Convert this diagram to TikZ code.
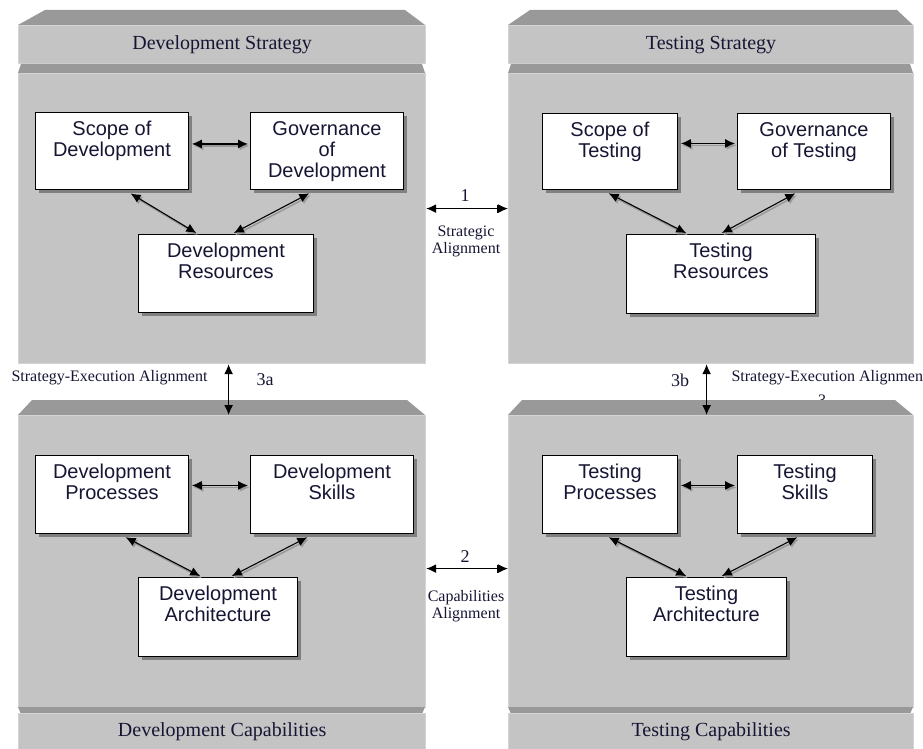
\documentclass[tikz,border=0pt]{standalone}
\usepackage{fontspec}
\setmainfont{Liberation Serif}
\setsansfont{Liberation Sans}
\usepackage{tikz}
\usetikzlibrary{arrows.meta,shadows}
\definecolor{panelgray}{RGB}{196,196,196}
\definecolor{bevelgray}{RGB}{153,153,153}
\definecolor{edgegray}{RGB}{212,212,212}
\definecolor{inkblue}{RGB}{22,22,52}

\begin{document}
\begin{tikzpicture}[x=1pt, y=-1pt,
  panel/.style={fill=panelgray, draw=edgegray, line width=1.2pt,
    anchor=north west, inner sep=0pt, text=inkblue,
    font=\fontsize{20}{22}\selectfont},
  bevel/.style={fill=bevelgray},
  card/.style={draw=black, fill=white, line width=0.9pt,
    anchor=north west, inner sep=0pt,
    drop shadow={shadow xshift=3.5pt, shadow yshift=-3.5pt,
      fill=black!50, opacity=1}},
  cardtext/.style={anchor=north, align=center, text=inkblue,
    font=\sffamily\fontsize{20}{21}\selectfont, inner ysep=9pt},
  gaptext/.style={text=inkblue, align=center,
    font=\fontsize{16}{17}\selectfont},
  numtext/.style={text=inkblue, font=\fontsize{18}{20}\selectfont},
  link/.style={{Latex[length=10pt,width=9pt]}-{Latex[length=10pt,width=9pt]},
    line width=1.1pt, shorten <=3pt, shorten >=2pt,
    preaction={draw=black!40, line width=1.5pt,
      transform canvas={shift={(1.5pt,-2pt)}}}},
  alignlink/.style={{Latex[length=10pt,width=9pt]}-{Latex[length=10pt,width=9pt]},
    line width=1.2pt},
  barlink/.style={{Latex[length=10pt,width=9pt]}-{Bar[width=8pt]Latex[length=10pt,width=9pt]},
    line width=1.2pt}
]
  \clip (0,0) rectangle (923,749);

  % hidden label behind the lower right panel
  \node[gaptext] (hidden) at (822,400) {3};

  % === Development Strategy (top left) ===
  \fill[bevel] (18,25) -- (45,10) -- (405,10) -- (425,25) -- cycle;
  \node[panel, minimum width=407, minimum height=38] (tlhead) at (18,25)
    {Development Strategy};
  \fill[bevel] (18,73) -- (21,64) -- (422,64) -- (425,73) -- cycle;
  \node[panel, minimum width=407, minimum height=290] (tlbody) at (18,73) {};

  % === Testing Strategy (top right) ===
  \fill[bevel] (508,25) -- (530,10) -- (897,10) -- (913,25) -- cycle;
  \node[panel, minimum width=405, minimum height=38] (trhead) at (508,25)
    {Testing Strategy};
  \fill[bevel] (508,73) -- (511,64) -- (910,64) -- (913,73) -- cycle;
  \node[panel, minimum width=405, minimum height=290] (trbody) at (508,73) {};

  % === Development Capabilities (bottom left) ===
  \fill[bevel] (18,415) -- (32,400) -- (407,400) -- (425,415) -- cycle;
  \node[panel, minimum width=407, minimum height=292] (blbody) at (18,415) {};
  \fill[bevel] (18,707) -- (425,707) -- (422,714) -- (21,714) -- cycle;
  \node[panel, minimum width=407, minimum height=36] (blhead) at (18,713)
    {Development Capabilities};

  % === Testing Capabilities (bottom right) ===
  \fill[bevel] (508,415) -- (522,400) -- (895,400) -- (913,415) -- cycle;
  \node[panel, minimum width=405, minimum height=292] (brbody) at (508,415) {};
  \fill[bevel] (508,707) -- (913,707) -- (910,714) -- (511,714) -- cycle;
  \node[panel, minimum width=405, minimum height=36] (brhead) at (508,713)
    {Testing Capabilities};

  % Development strategy boxes
  \node[card, minimum width=153, minimum height=77] (scopedev) at (35,112) {};
  \node[cardtext] (scopedevtxt) at (scopedev.north) {Scope of\\Development};
  \node[card, minimum width=153, minimum height=77] (govdev) at (250,112) {};
  \node[cardtext] (govdevtxt) at (govdev.north) {Governance\\of\\Development};
  \node[card, minimum width=175, minimum height=78] (resdev) at (138,234) {};
  \node[cardtext] (resdevtxt) at (resdev.north) {Development\\Resources};
  \draw[link] ([yshift=7pt]scopedev.east) -- ([yshift=7pt]govdev.west);
  \draw[link] ([shift={(93pt,-2pt)}]scopedev.south west)
    -- ([xshift=60pt]resdev.north west);
  \draw[link] ([shift={(62pt,-2pt)}]govdev.south west)
    -- ([xshift=94pt]resdev.north west);

  % Testing strategy boxes
  \node[card, minimum width=135, minimum height=76] (scopetest) at (542,113) {};
  \node[cardtext] (scopetesttxt) at (scopetest.north) {Scope of\\Testing};
  \node[card, minimum width=153, minimum height=76] (govtest) at (737,113) {};
  \node[cardtext] (govtesttxt) at (govtest.north) {Governance\\of Testing};
  \node[card, minimum width=189, minimum height=79] (restest) at (626,234) {};
  \node[cardtext] (restesttxt) at (restest.north) {Testing\\Resources};
  \draw[link] ([yshift=8pt]scopetest.east) -- ([yshift=8pt]govtest.west);
  \draw[link] ([shift={(64pt,-2pt)}]scopetest.south west)
    -- ([xshift=62pt]restest.north west);
  \draw[link] ([shift={(61pt,-2pt)}]govtest.south west)
    -- ([xshift=94pt]restest.north west);

  % Development capabilities boxes
  \node[card, minimum width=153, minimum height=78] (procdev) at (35,455) {};
  \node[cardtext] (procdevtxt) at (procdev.north) {Development\\Processes};
  \node[card, minimum width=163, minimum height=78] (skilldev) at (250,455) {};
  \node[cardtext] (skilldevtxt) at (skilldev.north) {Development\\Skills};
  \node[card, minimum width=159, minimum height=79] (archdev) at (138,577) {};
  \node[cardtext] (archdevtxt) at (archdev.north) {Development\\Architecture};
  \draw[link] ([yshift=9pt]procdev.east) -- ([yshift=9pt]skilldev.west);
  \draw[link] ([shift={(88pt,-2pt)}]procdev.south west)
    -- ([xshift=64pt]archdev.north west);
  \draw[link] ([shift={(60pt,-2pt)}]skilldev.south west)
    -- ([xshift=92pt]archdev.north west);

  % Testing capabilities boxes
  \node[card, minimum width=135, minimum height=78] (proctest) at (542,455) {};
  \node[cardtext] (proctesttxt) at (proctest.north) {Testing\\Processes};
  \node[card, minimum width=135, minimum height=78] (skilltest) at (737,455) {};
  \node[cardtext] (skilltesttxt) at (skilltest.north) {Testing\\Skills};
  \node[card, minimum width=160, minimum height=79] (archtest) at (626,577) {};
  \node[cardtext] (archtesttxt) at (archtest.north) {Testing\\Architecture};
  \draw[link] ([yshift=9pt]proctest.east) -- ([yshift=9pt]skilltest.west);
  \draw[link] ([shift={(64pt,-2pt)}]proctest.south west)
    -- ([xshift=62pt]archtest.north west);
  \draw[link] ([shift={(63pt,-2pt)}]skilltest.south west)
    -- ([xshift=94pt]archtest.north west);

  % === Alignments between the panels ===
  \node[numtext] (one) at (465,196) {1};
  \draw[barlink] ([yshift=10pt]tlbody.east) -- ([yshift=10pt]trbody.west);
  \node[gaptext] (strat) at (466,241) {Strategic\\Alignment};

  \node[numtext] (two) at (465,557) {2};
  \draw[barlink] ([yshift=-7pt]blbody.east) -- ([yshift=-7pt]brbody.west);
  \node[gaptext] (capab) at (466,606) {Capabilities\\Alignment};

  \draw[alignlink] ([xshift=6.5pt]tlbody.south) -- ([xshift=6.5pt]blbody.north);
  \node[numtext] (threea) at (265,380) {3a};
  \node[gaptext, anchor=west] (sealeft) at (8,378) {Strategy-Execution Alignment};

  \draw[alignlink] ([xshift=-4.5pt]trbody.south) -- ([xshift=-4.5pt]brbody.north);
  \node[numtext] (threeb) at (680,380) {3b};
  \node[gaptext, anchor=west] (searight) at (728,378) {Strategy-Execution Alignment};

\end{tikzpicture}
\end{document}
